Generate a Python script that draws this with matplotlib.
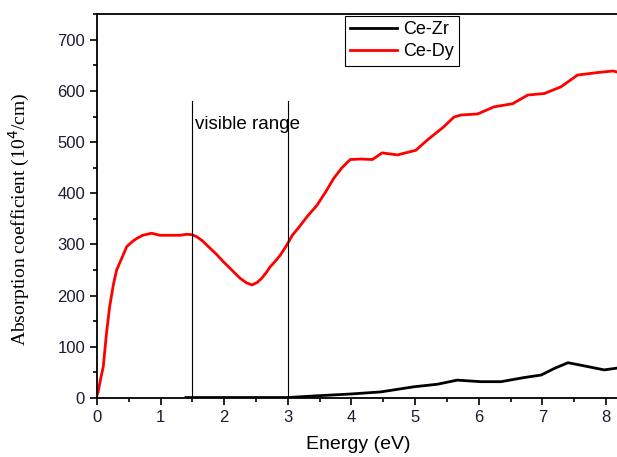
import matplotlib.pyplot as plt
from matplotlib.ticker import MultipleLocator

# Ce-Dy absorption spectrum
dy_energy = [0.0, 0.02, 0.06, 0.1, 0.15, 0.2, 0.26, 0.31, 0.39, 0.47, 0.57, 0.63, 0.72,
             0.86, 0.99, 1.15, 1.31, 1.41, 1.5, 1.57, 1.66, 1.75, 1.87, 1.99, 2.12,
             2.25, 2.35, 2.44, 2.52, 2.59, 2.66, 2.72, 2.8, 2.88, 2.98, 3.07, 3.17,
             3.3, 3.46, 3.6, 3.72, 3.85, 3.98, 4.15, 4.33, 4.48, 4.72, 5.01, 5.19,
             5.45, 5.61, 5.72, 5.98, 6.24, 6.53, 6.77, 7.03, 7.29, 7.55, 7.87, 8.11, 8.2]
dy_alpha = [5, 12, 38, 61, 125, 178, 222, 250, 273, 296, 307, 312, 318,
            322, 318, 318, 318, 320, 319, 315, 307, 296, 282, 266, 250,
            234, 225, 221, 226, 234, 245, 256, 267, 279, 298, 318, 333,
            354, 377, 404, 429, 450, 466, 467, 466, 479, 475, 484, 504,
            530, 549, 553, 555, 569, 575, 592, 595, 608, 631, 636, 639, 636]

# Ce-Zr absorption spectrum
zr_energy = [1.4, 2.0, 3.0, 3.4, 4.0, 4.46, 4.98, 5.35, 5.66, 6.03, 6.35, 6.71,
             6.98, 7.19, 7.4, 7.61, 7.97, 8.2]
zr_alpha = [1, 1, 1, 4, 8, 12, 22, 27, 35, 32, 32, 40,
            45, 58, 69, 64, 55, 59]

visible_edges = [1.5, 3.0]

fig = plt.figure(figsize=(6.17, 4.57), dpi=100)
ax = fig.add_axes([0.157, 0.129, 0.846, 0.840])

ax.plot(zr_energy, zr_alpha, color='black', lw=2, label='Ce-Zr')
ax.plot(dy_energy, dy_alpha, color='#ff0000', lw=2, label='Ce-Dy')

for e in visible_edges:
    ax.plot([e, e], [0, 580], color='black', lw=0.8)
ax.text(1.54, 535, 'visible range', fontsize=13.5, family='Liberation Sans',
        va='center', ha='left')

ax.set_xlim(0, 8.2)
ax.set_ylim(0, 750)
ax.xaxis.set_major_locator(MultipleLocator(1))
ax.xaxis.set_minor_locator(MultipleLocator(0.5))
ax.yaxis.set_major_locator(MultipleLocator(100))
ax.yaxis.set_minor_locator(MultipleLocator(50))
ax.tick_params(which='major', direction='out', length=5, width=1.2, labelsize=12)
ax.tick_params(which='minor', direction='out', length=3, width=1.2)
for lab in ax.get_xticklabels() + ax.get_yticklabels():
    lab.set_family('Liberation Sans')
    lab.set_color('#1a1a33')
for s in ax.spines.values():
    s.set_linewidth(1.3)

ax.set_xlabel('Energy (eV)', fontsize=14, family='Liberation Sans', labelpad=8)
ax.set_ylabel('Absorption coefficient (10$^4$/cm)', fontsize=14,
              family='Liberation Serif')
ax.yaxis.set_label_coords(-0.125, 0.465)

leg = fig.legend(loc='upper left', bbox_to_anchor=(0.559, 0.966), fancybox=False,
                 edgecolor='black', framealpha=1, handlelength=2.6,
                 borderpad=0.3, labelspacing=0.3, handletextpad=0.3,
                 borderaxespad=0, prop={'family': 'Liberation Sans', 'size': 13})
leg.get_frame().set_linewidth(0.8)

fig.savefig('out.png', dpi=100)
